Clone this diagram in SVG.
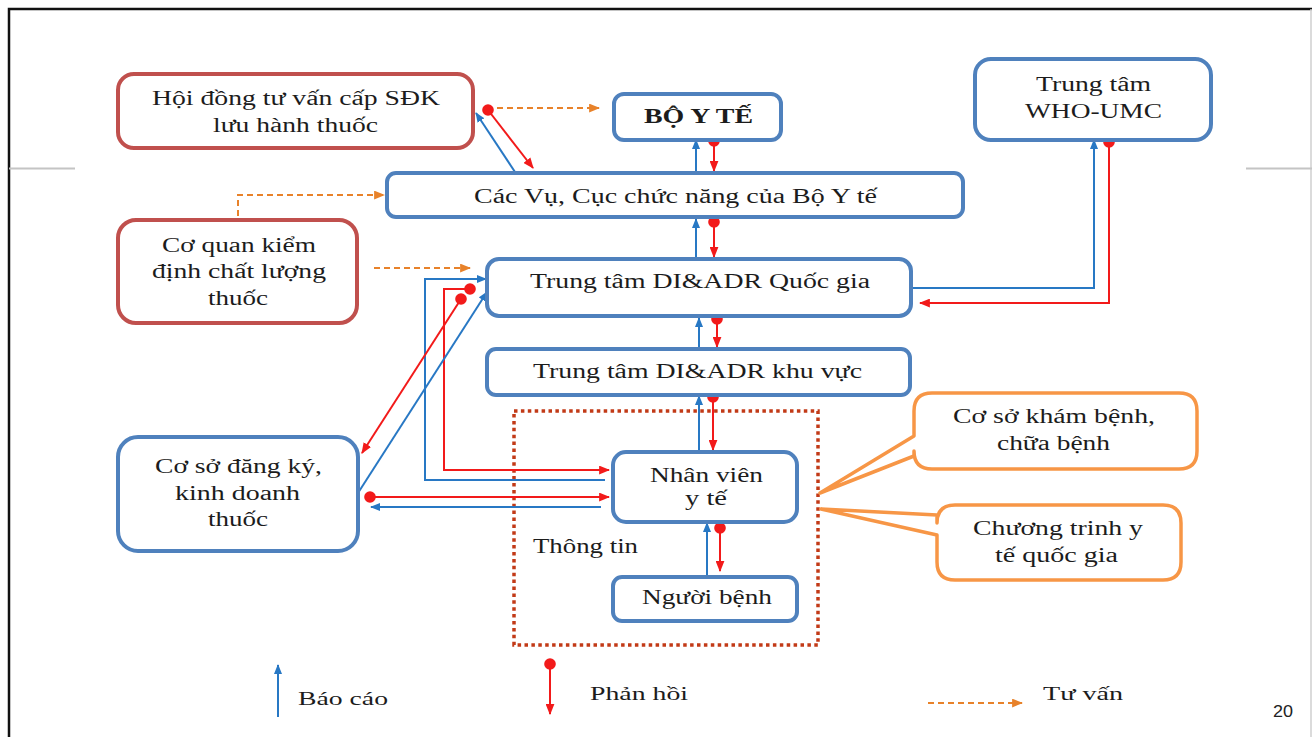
<svg xmlns="http://www.w3.org/2000/svg" width="1312" height="737" viewBox="0 0 1312 737">
  <defs>
    <style>
      .txt { font-family: "Liberation Serif", "Times New Roman", serif; font-size: 20px; fill: #1c1c1c; }
      .bold { font-weight: bold; }
      .leg { font-size: 19px; }
      .boxB { fill: #fff; stroke: #4F81BD; stroke-width: 4; }
      .boxR { fill: #fff; stroke: #C0504D; stroke-width: 4; }
      .call { fill: #fff; stroke: #F79646; stroke-width: 3.5; stroke-linejoin: round; }
      .blue { fill: none; stroke: #2878C4; stroke-width: 2; marker-end: url(#arrB); }
      .red { fill: none; stroke: #F21A1A; stroke-width: 2; marker-start: url(#dotR); marker-end: url(#arrR); }
      .dash { fill: none; stroke: #E8822A; stroke-width: 2; stroke-dasharray: 6 4; marker-end: url(#arrO); }
    </style>
    <marker id="arrB" markerUnits="userSpaceOnUse" viewBox="0 0 10 8" refX="9" refY="4" markerWidth="10" markerHeight="8" orient="auto">
      <path d="M0,0 L10,4 L0,8 z" fill="#2878C4"/>
    </marker>
    <marker id="arrR" markerUnits="userSpaceOnUse" viewBox="0 0 10 8" refX="9" refY="4" markerWidth="11" markerHeight="9" orient="auto">
      <path d="M0,0 L10,4 L0,8 z" fill="#F21A1A"/>
    </marker>
    <marker id="arrO" markerUnits="userSpaceOnUse" viewBox="0 0 10 8" refX="9" refY="4" markerWidth="11" markerHeight="9" orient="auto">
      <path d="M0,0 L10,4 L0,8 z" fill="#E8822A"/>
    </marker>
    <marker id="dotR" markerUnits="userSpaceOnUse" viewBox="0 0 12 12" refX="6" refY="6" markerWidth="12" markerHeight="12">
      <circle cx="6" cy="6" r="5.8" fill="#F21A1A"/>
    </marker>
  </defs>

  <rect width="1312" height="737" fill="#fff"/>

  <!-- slide frame -->
  <g id="frame">
    <path d="M9,737 V9 H1312" fill="none" stroke="#111" stroke-width="2.5"/>
    <line x1="1311" y1="9" x2="1311" y2="737" stroke="#cfcfcf" stroke-width="1.5"/>
    <line x1="9" y1="168.5" x2="75" y2="168.5" stroke="#c4c4c4" stroke-width="2"/>
    <line x1="1246" y1="168.5" x2="1312" y2="168.5" stroke="#c4c4c4" stroke-width="2"/>
  </g>

  <!-- dotted frame around the facility level -->
  <g id="thong-tin-zone">
    <rect x="514" y="411" width="304" height="234" fill="none" stroke="#C23A17" stroke-width="3.5" stroke-dasharray="3.5 3.4"/>
    <text class="txt" x="533" y="553" textLength="105" lengthAdjust="spacingAndGlyphs">Thông tin</text>
  </g>

  <!-- connectors -->
  <g id="connectors">
    <!-- consultation (dashed) -->
    <path class="dash" d="M497,108 H599"/>
    <path class="dash" d="M238,216 V195 H384"/>
    <path class="dash" d="M374,268 H470"/>

    <!-- Hội đồng <-> Các Vụ -->
    <path class="blue" d="M515,172 L476,113"/>
    <path class="red" d="M488,110 L533,168"/>

    <!-- vertical chain -->
    <path class="blue" d="M696,172 V140"/>
    <path class="red" d="M714,141 V171"/>
    <path class="blue" d="M696,258 V219"/>
    <path class="red" d="M714,222 V257"/>
    <path class="blue" d="M699,348 V318"/>
    <path class="red" d="M717,319 V347"/>
    <path class="blue" d="M699,451 V396"/>
    <path class="red" d="M713,397 V450"/>
    <path class="blue" d="M707,576 V523"/>
    <path class="red" d="M720,528 V571"/>

    <!-- Quốc gia <-> WHO-UMC -->
    <path class="blue" d="M911,288 H1094 V140"/>
    <path class="red" d="M1109,142 V303 H920"/>

    <!-- Nhân viên y tế <-> Quốc gia -->
    <path class="blue" d="M605,480 H425 V279 H486"/>
    <path class="red" d="M470,289 H444 V470 H609"/>

    <!-- Cơ sở đăng ký <-> Quốc gia -->
    <path class="red" d="M461,299 L362,453"/>
    <path class="blue" d="M358,493 L487,292"/>

    <!-- Cơ sở đăng ký <-> Nhân viên y tế -->
    <path class="red" d="M370,497 H609"/>
    <path class="blue" d="M601,507 H371"/>
  </g>

  <!-- nodes -->
  <g id="hoi-dong">
    <rect class="boxR" x="118" y="74" width="355" height="74" rx="16"/>
    <text class="txt" x="152" y="105" textLength="288" lengthAdjust="spacingAndGlyphs">Hội đồng tư vấn cấp SĐK</text>
    <text class="txt" x="213" y="132" textLength="165" lengthAdjust="spacingAndGlyphs">lưu hành thuốc</text>
  </g>

  <g id="bo-y-te">
    <rect class="boxB" x="614" y="94" width="167" height="46" rx="10"/>
    <text class="txt bold" x="644" y="123" textLength="109" lengthAdjust="spacingAndGlyphs">BỘ Y TẾ</text>
  </g>

  <g id="who-umc">
    <rect class="boxB" x="975" y="59" width="236" height="81" rx="16"/>
    <text class="txt" x="1036" y="91" textLength="115" lengthAdjust="spacingAndGlyphs">Trung tâm</text>
    <text class="txt" x="1025" y="118" textLength="137" lengthAdjust="spacingAndGlyphs">WHO-UMC</text>
  </g>

  <g id="cac-vu">
    <rect class="boxB" x="387" y="173" width="576" height="44" rx="9"/>
    <text class="txt" x="474" y="203" textLength="403" lengthAdjust="spacingAndGlyphs">Các Vụ, Cục chức năng của Bộ Y tế</text>
  </g>

  <g id="co-quan-kiem-dinh">
    <rect class="boxR" x="118" y="220" width="239" height="103" rx="18"/>
    <text class="txt" x="162" y="252" textLength="154" lengthAdjust="spacingAndGlyphs">Cơ quan kiểm</text>
    <text class="txt" x="152" y="278" textLength="174" lengthAdjust="spacingAndGlyphs">định chất lượng</text>
    <text class="txt" x="208" y="305" textLength="60" lengthAdjust="spacingAndGlyphs">thuốc</text>
  </g>

  <g id="di-adr-quoc-gia">
    <rect class="boxB" x="487" y="259" width="424" height="57" rx="12"/>
    <text class="txt" x="530" y="288" textLength="340" lengthAdjust="spacingAndGlyphs">Trung tâm DI&amp;ADR Quốc gia</text>
  </g>

  <g id="di-adr-khu-vuc">
    <rect class="boxB" x="487" y="349" width="423" height="46" rx="9"/>
    <text class="txt" x="533" y="378" textLength="329" lengthAdjust="spacingAndGlyphs">Trung tâm DI&amp;ADR khu vực</text>
  </g>

  <g id="co-so-dang-ky">
    <rect class="boxB" x="118" y="437" width="240" height="114" rx="20"/>
    <text class="txt" x="155" y="473" textLength="167" lengthAdjust="spacingAndGlyphs">Cơ sở đăng ký,</text>
    <text class="txt" x="175" y="500" textLength="125" lengthAdjust="spacingAndGlyphs">kinh doanh</text>
    <text class="txt" x="208" y="526" textLength="60" lengthAdjust="spacingAndGlyphs">thuốc</text>
  </g>

  <g id="nhan-vien-y-te">
    <rect class="boxB" x="613" y="452" width="184" height="70" rx="13"/>
    <text class="txt" x="650" y="482" textLength="113" lengthAdjust="spacingAndGlyphs">Nhân viên</text>
    <text class="txt" x="685" y="505" textLength="42" lengthAdjust="spacingAndGlyphs">y tế</text>
  </g>

  <g id="nguoi-benh">
    <rect class="boxB" x="613" y="577" width="184" height="44" rx="9"/>
    <text class="txt" x="642" y="604" textLength="130" lengthAdjust="spacingAndGlyphs">Người bệnh</text>
  </g>

  <g id="co-so-kham-benh">
    <path class="call" d="M932,393 H1179 Q1197,393 1197,411 V451 Q1197,469 1179,469 H932 Q914,469 914,451 V456 L820,493 L914,436 V411 Q914,393 932,393 Z"/>
    <text class="txt" x="953" y="423" textLength="202" lengthAdjust="spacingAndGlyphs">Cơ sở khám bệnh,</text>
    <text class="txt" x="997" y="450" textLength="113" lengthAdjust="spacingAndGlyphs">chữa bệnh</text>
  </g>

  <g id="chuong-trinh">
    <path class="call" d="M955,505 H1163 Q1181,505 1181,523 V562 Q1181,580 1163,580 H955 Q937,580 937,562 V535 L821,509 L937,515 V523 Q937,505 955,505 Z"/>
    <text class="txt" x="973" y="535" textLength="170" lengthAdjust="spacingAndGlyphs">Chương trinh y</text>
    <text class="txt" x="995" y="562" textLength="123" lengthAdjust="spacingAndGlyphs">tế quốc gia</text>
  </g>

  <!-- legend -->
  <g id="legend">
    <path class="blue" d="M278,717 V665" stroke-width="1.5"/>
    <text class="txt leg" x="298" y="705" textLength="90" lengthAdjust="spacingAndGlyphs">Báo cáo</text>
    <path class="red" d="M550,664 V714"/>
    <text class="txt leg" x="590" y="700" textLength="98" lengthAdjust="spacingAndGlyphs">Phản hồi</text>
    <path class="dash" d="M928,703 H1022"/>
    <text class="txt leg" x="1043" y="700" textLength="80" lengthAdjust="spacingAndGlyphs">Tư vấn</text>
  </g>

  <text x="1273" y="717" font-family="Liberation Sans, Arial, sans-serif" font-size="17" fill="#222" textLength="20" lengthAdjust="spacingAndGlyphs">20</text>
</svg>
